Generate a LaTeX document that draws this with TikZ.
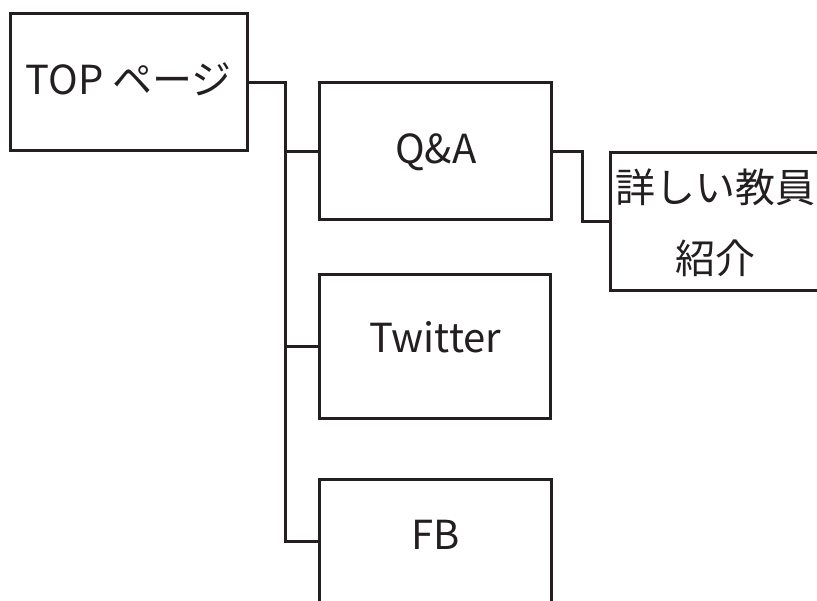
\documentclass[tikz,border=0pt]{standalone}
\usepackage{fontspec}
\setmainfont{Noto Sans CJK JP}
\definecolor{ink}{HTML}{231F20}
\begin{document}
\begin{tikzpicture}[x=1pt,y=-1pt,
  box/.style={draw=ink, line width=3pt, inner sep=0pt, text=ink,
    font=\fontsize{40}{71}\selectfont},
  link/.style={draw=ink, line width=3pt}]
\useasboundingbox (0,0) rectangle (817,601);
\clip (0,0) rectangle (817,601);
\node[box, minimum width=236.5pt, minimum height=136.7pt, text height=30pt, text depth=4.4pt] (top) at (128.8,82.2) {TOP ページ};
\node[box, minimum width=231.7pt, minimum height=137.5pt, text height=30pt, text depth=6pt] (qa) at (435.8,151.2) {Q\&A};
\node[box, minimum width=231pt, minimum height=143.7pt, text height=20pt, text depth=7.2pt] (tw) at (435.3,346.6) {Twitter};
\node[box, minimum width=232pt, minimum height=124.2pt, text height=22pt, text depth=6.6pt] (fb) at (435.5,541.3) {FB};
\node[box, minimum width=210pt, minimum height=138.3pt, align=center, text height=111pt, text depth=5.6pt] (det) at (715.2,221.3) {詳しい教員\\紹介};
\coordinate (j) at (285,0);
\coordinate (k) at (582.2,0);
\draw[link] (top.east) -- (top.east -| j) -- (fb.west -| j) -- (fb.west);
\draw[link] (qa.west -| j) -- (qa.west);
\draw[link] (tw.west -| j) -- (tw.west);
\draw[link] (qa.east) -- (qa.east -| k) -- (det.west -| k) -- (det.west);
\end{tikzpicture}
\end{document}
